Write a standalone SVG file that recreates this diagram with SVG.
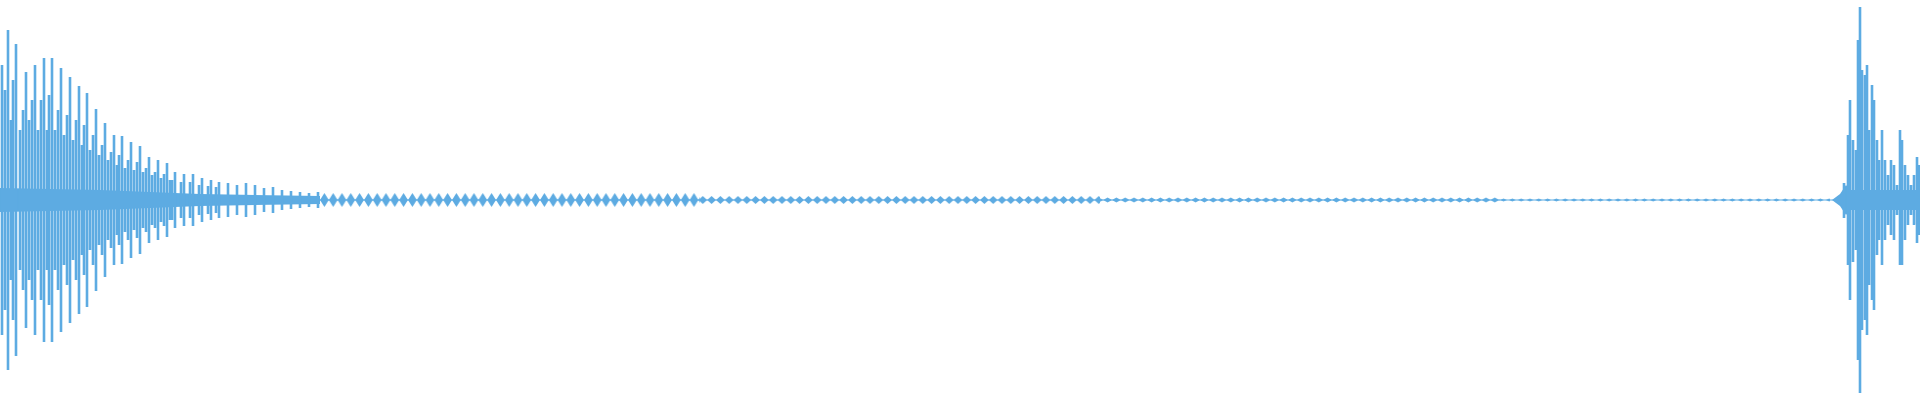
<svg xmlns="http://www.w3.org/2000/svg" width="1920" height="400" viewBox="0 0 1920 400">
<style>.w{stroke:#5dabe2;stroke-width:2.6;fill:none}.f{fill:#5dabe2}</style>
<defs>
<pattern id="p1" patternUnits="userSpaceOnUse" x="320" y="186" width="8.8" height="28"><polygon class="f" points="0,14 4.4,7 8.8,14 4.4,21"/></pattern>
<pattern id="p2" patternUnits="userSpaceOnUse" x="320" y="186" width="8.8" height="28"><polygon class="f" points="0,14 4.4,10 8.8,14 4.4,18"/></pattern>
<pattern id="p3" patternUnits="userSpaceOnUse" x="320" y="186" width="8.8" height="28"><polygon class="f" points="0,14 4.4,11.5 8.8,14 4.4,16.5"/></pattern>
<pattern id="p4" patternUnits="userSpaceOnUse" x="320" y="186" width="8.8" height="28"><polygon class="f" points="1,14 4.4,12.5 7.8,14 4.4,15.5"/></pattern>
</defs>
<rect width="1920" height="400" fill="#fff"/>
<g id="wave">
<polygon class="f" points="0,188 100,190 200,194 320,196 320,204 200,206 100,210 0,212"/>
<path class="w" d="M2 65V335 M8 30V370 M5 90V310 M11 120V280 M16 44V356 M13 80V320 M20 130V270 M26 72V328 M23 110V290 M29 120V280 M35 65V335 M32 100V300 M38 130V270 M44 58V342 M41 100V300 M47 130V270 M52 58V342 M49 95V305 M55 130V270 M61 68V332 M58 110V290 M64 135V265 M70 77V323 M67 115V285 M73 140V260 M79 86V314 M76 120V280 M82 145V255 M87 93V307 M84 125V275 M90 150V250 M96 109V291 M93 135V265 M99 155V245 M105 123V277 M102 145V255 M108 160V240 M114 135V265 M111 152V248 M117 165V235 M122 136V264 M119 155V245 M125 168V232 M131 142V258 M128 160V240 M134 170V230 M140 146V254 M137 162V238 M143 172V228 M149 157V243 M146 168V232 M152 175V225 M158 160V240 M155 172V228 M161 178V222 M167 163V237 M164 174V226 M170 180V220 M175 172V228 M172 180V220 M184 174V226 M181 182V218 M193 174V226 M190 182V218 M202 178V222 M199 185V215 M211 180V220 M208 186V214 M219 182V218 M216 187V213 M228 183V217 M237 185V215 M246 183V217 M255 185V215 M264 188V212 M273 187V213 M282 190V210 M291 191V209 M300 192V208 M309 193V207 M318 192V208"/>
<rect x="320" y="199.5" width="1520" height="1" class="f"/>
<rect x="320" y="186" width="380" height="28" fill="url(#p1)"/>
<rect x="700" y="186" width="400" height="28" fill="url(#p2)"/>
<rect x="1100" y="186" width="400" height="28" fill="url(#p3)"/>
<rect x="1500" y="186" width="330" height="28" fill="url(#p4)"/>
<polygon class="f" points="1832,200 1840,194 1846,185 1850,190 1920,190 1920,210 1850,210 1846,215 1840,206"/>
<path class="w" d="M1844 183V218 M1848 135V265 M1850 100V300 M1853 140V262 M1856 150V250 M1858 40V360 M1860 7V393 M1862 70V330 M1865 75V320 M1867 65V335 M1869 130V285 M1872 85V300 M1874 100V310 M1877 140V255 M1879 160V240 M1882 130V265 M1885 160V240 M1888 175V225 M1891 160V235 M1894 165V240 M1897 185V215 M1900 130V265 M1902 140V265 M1905 165V240 M1908 175V225 M1911 185V215 M1914 175V225 M1917 157V243 M1919 165V235"/>
</g>
</svg>
